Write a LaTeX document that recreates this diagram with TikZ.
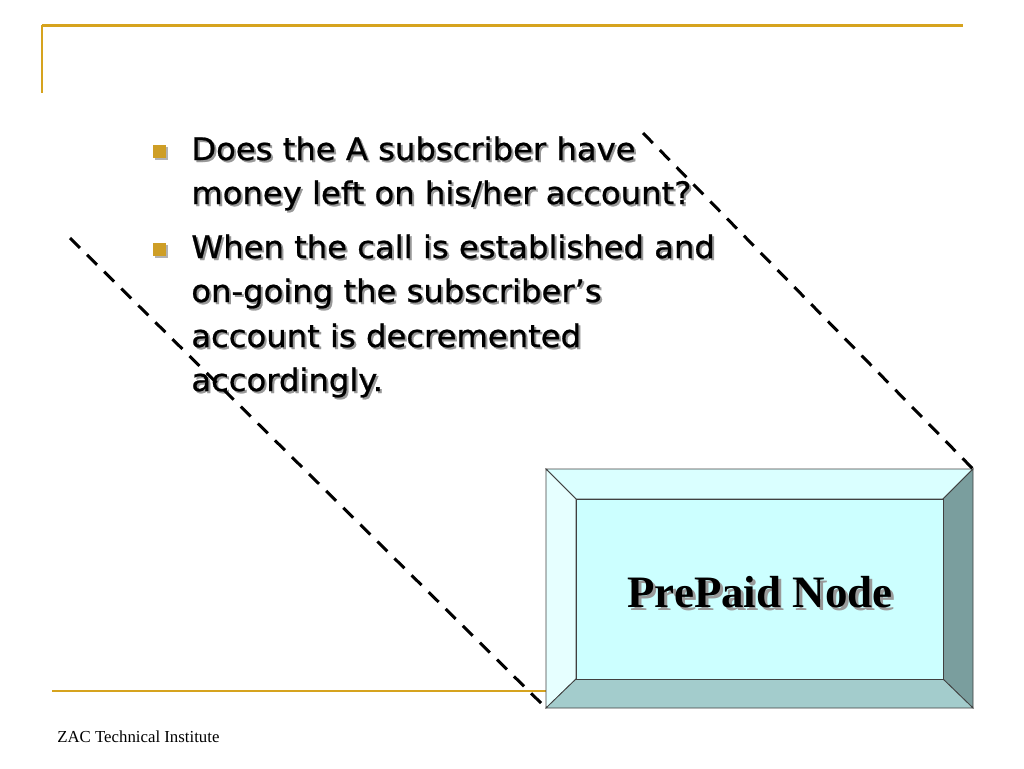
\documentclass[tikz,border=0pt]{standalone}
\usepackage{fontspec}
\setmainfont{Liberation Serif}
\newfontfamily\tahoma[FakeStretch=1.04,FakeBold=0.8]{DejaVu Sans}
\definecolor{rulegold}{RGB}{214,163,30}
\definecolor{bulletgold}{RGB}{206,158,38}
\definecolor{facecyan}{RGB}{204,255,255}
\definecolor{topbevel}{RGB}{218,255,255}
\definecolor{leftbevel}{RGB}{230,255,255}
\definecolor{rightbevel}{RGB}{122,158,158}
\definecolor{bottombevel}{RGB}{163,204,204}
\tikzset{every picture/.style={line width=0.5pt}}
\tikzset{
  bodytext/.style={anchor=base west, inner sep=0pt, font=\tahoma\fontsize{23.25}{28}\selectfont},
  bodyshadow/.style={bodytext, text=black!40},
  bevel/.style={draw=black!75, line width=0.6pt},
  cutline/.style={line width=2.25pt, dash pattern=on 10.5pt off 7.5pt}
}

\begin{document}
\begin{tikzpicture}[x=0.75pt,y=0.75pt,yscale=-1,xscale=1]
    \useasboundingbox (0,0) rectangle (1024,768);

    %Shape: Rules
    \draw [color=rulegold, line width=2.25] (42,25) -- (963,25);
    \draw [color=rulegold, line width=1.5] (42,25) -- (42,93);
    \draw [color=rulegold, line width=2] (52,691) -- (546,691);

    %Shape: Bullets
    \fill [black!30] (155,147) rectangle (168,160);
    \fill [bulletgold] (153,145) rectangle (166,158);
    \fill [black!30] (155,245) rectangle (168,258);
    \fill [bulletgold] (153,243) rectangle (166,256);

    % Text Node
    \foreach \name/\yy/\txt in {lineA/160/{Does the A subscriber have},
                                 lineB/204/{money left on his/her account?},
                                 lineC/258/{When the call is established and},
                                 lineD/302/{on-going the subscriber’s},
                                 lineE/347/{account is decremented},
                                 lineF/391/{accordingly.}} {
      \node [bodyshadow] (\name s) at (193,\yy+2) {\txt};
      \node [bodytext] (\name) at (191,\yy) {\txt};
    }

    %Shape: Bevel box
    \coordinate (boxTL) at (546,469);
    \coordinate (boxTR) at (973,469);
    \coordinate (boxBR) at (973,708);
    \coordinate (boxBL) at (546,708);
    \coordinate (faceTL) at (576,499);
    \coordinate (faceTR) at (943,499);
    \coordinate (faceBR) at (943,679);
    \coordinate (faceBL) at (576,679);
    \draw [bevel, fill=topbevel] (boxTL) -- (boxTR) -- (faceTR) -- (faceTL) -- cycle;
    \draw [bevel, fill=leftbevel] (boxTL) -- (faceTL) -- (faceBL) -- (boxBL) -- cycle;
    \draw [bevel, fill=rightbevel] (boxTR) -- (boxBR) -- (faceBR) -- (faceTR) -- cycle;
    \draw [bevel, fill=bottombevel] (boxBL) -- (faceBL) -- (faceBR) -- (boxBR) -- cycle;
    \draw [bevel, fill=facecyan] (faceTL) rectangle (faceBR);

    % Text Node
    \node [anchor=base, inner sep=0pt, text=black!40, font=\bfseries\fontsize{33.7}{40}\selectfont] (nodeshadow) at (763,610) {PrePaid Node};
    \node [anchor=base, inner sep=0pt, font=\bfseries\fontsize{33.7}{40}\selectfont] (nodelabel) at (760,607) {PrePaid Node};

    %Shape: Dashed lines
    \coordinate (cutA) at (70,238);
    \coordinate (cutB) at (643,133);
    \draw [cutline] (cutA) -- (boxBL);
    \draw [cutline] (cutB) -- (boxTR);

    % Text Node
    \node [anchor=base west, inner sep=0pt, font=\fontsize{12.6}{15}\selectfont] (footer) at (57,742) {ZAC Technical Institute};
\end{tikzpicture}
\end{document}
